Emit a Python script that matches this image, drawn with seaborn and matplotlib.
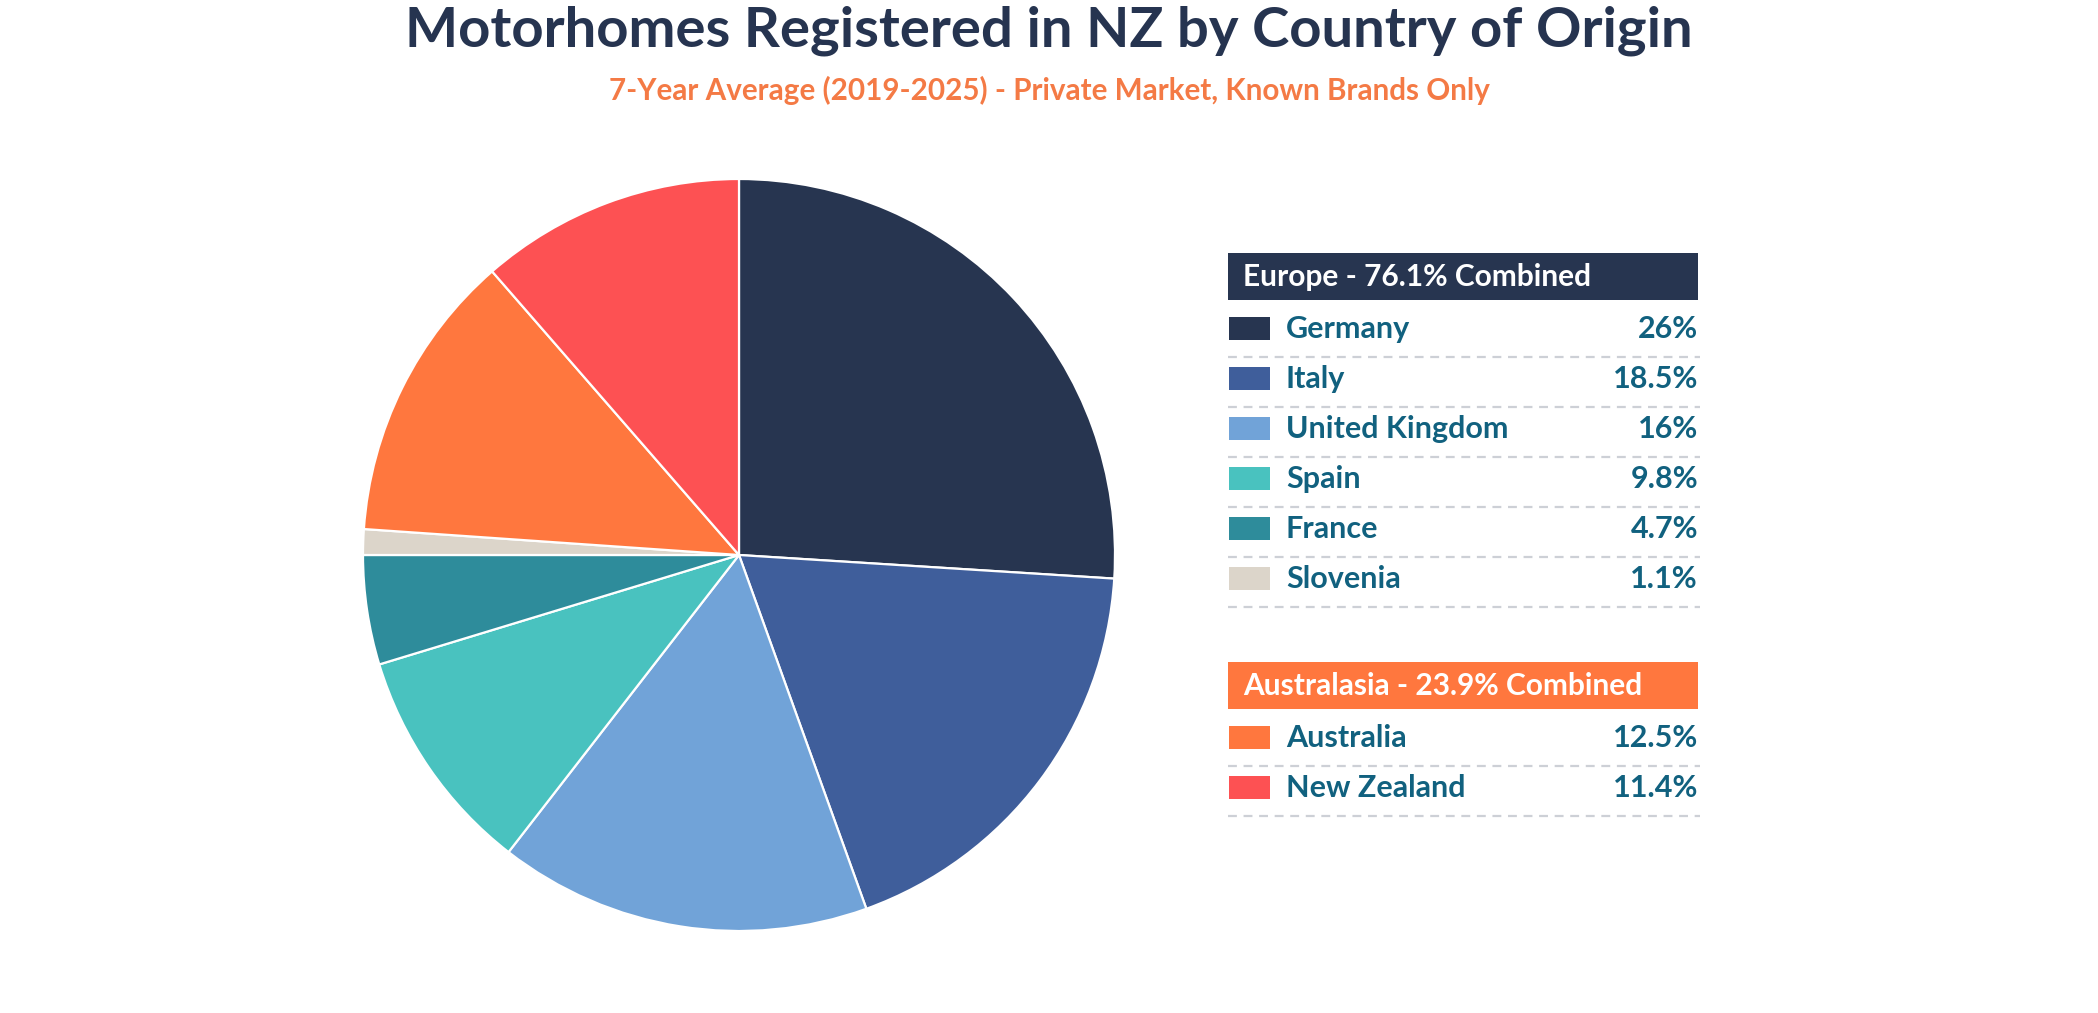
import matplotlib
matplotlib.use("Agg")
import matplotlib.pyplot as plt
import seaborn as sns
from matplotlib.patches import Rectangle

# ---- data ----
countries = ["Germany", "Italy", "United Kingdom", "Spain", "France", "Slovenia",
             "Australia", "New Zealand"]
shares = [26, 18.5, 16, 9.8, 4.7, 1.1, 12.5, 11.4]
regions = ["Europe"] * 6 + ["Australasia"] * 2
slice_colors = ["#273550", "#3F5E9B", "#71A3D8", "#49C2BF", "#2E8C9B", "#DCD5CA",
                "#FF773E", "#FD5153"]
region_names = ["Europe", "Australasia"]
region_colors = ["#273550", "#FF773E"]

title = "Motorhomes Registered in NZ by Country of Origin"
subtitle = "7-Year Average (2019-2025) - Private Market, Known Brands Only"

# ---- style ----
sns.set_theme(style="white")
plt.rcParams["font.family"] = ["Lato", "DejaVu Sans"]

W, H = 2098, 1013
fig = plt.figure(figsize=(W / 100, H / 100), dpi=100)
fig.patch.set_facecolor("white")

# pie axes (pixel box: centre 739,555 radius 376)
cx, cy, r = 739, 555, 376
ax = fig.add_axes([(cx - r) / W, (H - cy - r) / H, 2 * r / W, 2 * r / H])
ax.pie(shares, colors=slice_colors, startangle=90, counterclock=False,
       wedgeprops=dict(edgecolor="white", linewidth=1.6))
ax.set_xlim(-1.0, 1.0)
ax.set_ylim(-1.0, 1.0)
ax.set_aspect("equal")
ax.axis("off")

# overlay axes in pixel coordinates for titles + legend panel
ov = fig.add_axes([0, 0, 1, 1], zorder=5)
ov.set_xlim(0, W)
ov.set_ylim(H, 0)
ov.axis("off")
ov.patch.set_alpha(0)

ov.text(W / 2, 31, title, ha="center", va="center", fontsize=40.5,
        color="#263450", fontweight="bold")
ov.text(W / 2, 90, subtitle, ha="center", va="center", fontsize=21.3,
        color="#F47A45", fontweight="bold")

text_col = "#11617F"
x0, x1 = 1228, 1698
row_h = 50
header_tops = [253, 662]

for reg, rcol, top in zip(region_names, region_colors, header_tops):
    members = [i for i, g in enumerate(regions) if g == reg]
    total = sum(shares[i] for i in members)
    ov.add_patch(Rectangle((x0, top), x1 - x0, 47, facecolor=rcol, edgecolor="none"))
    ov.text(x0 + 15, top + 24, f"{reg} - {total:.1f}% Combined", ha="left",
            va="center", fontsize=21.5, color="white", fontweight="bold")
    y = top + 47
    for i in members:
        yc = y + 28
        ov.add_patch(Rectangle((x0 + 1, yc - 11), 41, 23, facecolor=slice_colors[i],
                               edgecolor="none"))
        ov.text(1286, yc + 1, countries[i], ha="left", va="center", fontsize=22,
                color=text_col, fontweight="bold")
        ov.text(x1, yc + 1, f"{shares[i]:g}%", ha="right", va="center", fontsize=22,
                color=text_col, fontweight="bold")
        ov.plot([x0, x1 + 2], [y + 57, y + 57], color="#CDD0D6", lw=1.6,
                linestyle=(0, (4, 3)))
        y += row_h

fig.savefig("out.png", dpi=100, facecolor="white")
